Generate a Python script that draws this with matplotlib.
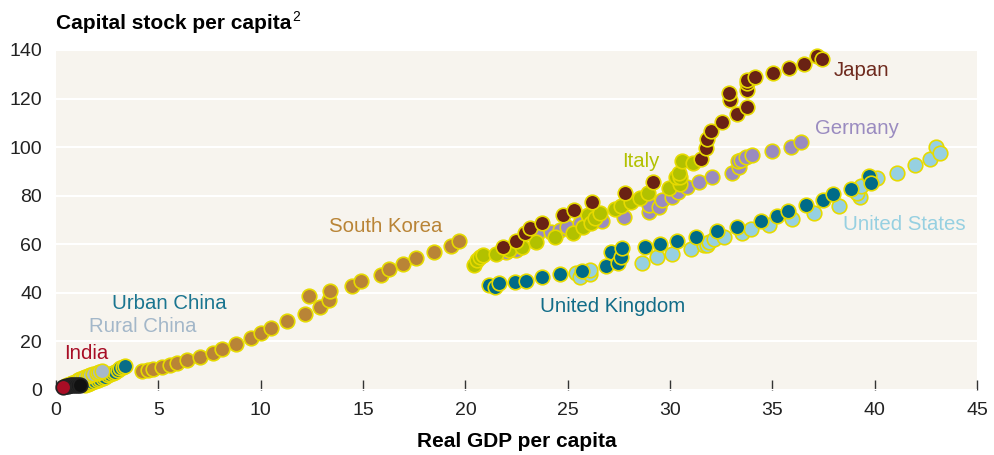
import matplotlib.pyplot as plt

plt.rcParams['font.family'] = ['Liberation Sans', 'DejaVu Sans']

# values (real GDP per capita, capital stock per capita)
india_x = [0.36]
india_y = [1.4]
india_dark_x = [0.5, 0.59, 0.68, 0.78, 0.88, 0.98, 1.08, 1.17]
india_dark_y = [1.6, 1.8, 1.9, 2.0, 2.0, 2.1, 2.1, 2.2]

rural_x = [0.44, 0.56, 0.68, 0.8, 0.93, 1.05, 1.17, 1.3, 1.42, 1.54, 1.66, 1.82, 1.99, 2.1, 2.23]
rural_y = [1.6, 2.0, 2.5, 2.9, 3.4, 4.0, 4.5, 5.0, 5.5, 5.9, 6.2, 6.6, 7.1, 7.5, 7.9]

urban_x = [1.4, 1.55, 1.66, 1.78, 1.91, 2.03, 2.15, 2.28, 2.4, 2.52, 2.64, 2.77, 2.89, 3.01, 3.13, 3.25, 3.37]
urban_y = [1.9, 2.4, 2.8, 3.2, 3.7, 4.1, 4.5, 5.0, 5.5, 6.0, 6.5, 7.0, 7.5, 8.2, 8.9, 9.4, 9.9]

korea_x = [4.19, 4.51, 4.74, 5.17, 5.57, 5.9, 6.39, 7.04, 7.69, 8.13, 8.8, 9.52, 10.0, 10.5,
           11.3, 12.18, 12.34, 12.9, 13.35, 13.4, 14.46, 14.88, 15.89, 16.28, 16.93, 17.59,
           18.45, 19.3, 19.7]
korea_y = [7.9, 8.2, 8.6, 9.3, 10.3, 11.2, 12.3, 13.7, 15.1, 16.7, 18.9, 21.2, 23.5, 25.6,
           28.5, 31.3, 38.9, 34.3, 37.0, 40.9, 42.8, 44.9, 47.2, 49.8, 51.9, 54.2,
           56.9, 59.1, 61.4]

germany_x = [21.96, 22.49, 23.51, 24.16, 24.61, 24.97, 25.62, 26.68, 27.74, 28.96, 28.96,
             29.45, 29.62, 30.11, 30.38, 30.84, 31.41, 32.06, 33.04, 33.35, 33.32, 33.45,
             33.69, 34.02, 35.0, 35.89, 36.38]
germany_y = [56.8, 57.6, 64.2, 65.1, 65.8, 67.2, 68.6, 69.5, 71.3, 73.4, 76.1,
             75.2, 78.2, 79.5, 81.6, 83.7, 85.7, 87.8, 89.5, 92.0, 94.4, 94.7,
             95.8, 96.7, 98.5, 100.1, 102.1]

japan_x = [21.86, 22.49, 22.93, 23.14, 23.73, 24.78, 25.33, 26.18, 27.82, 29.16, 31.53,
           31.77, 31.81, 32.02, 32.53, 33.29, 33.77, 32.94, 32.88, 33.74, 33.77, 33.74,
           34.13, 35.05, 35.81, 36.54, 37.16, 37.44]
japan_y = [59.0, 61.4, 64.5, 66.5, 68.9, 71.9, 74.1, 77.4, 81.1, 85.7, 95.3,
           99.5, 103.4, 106.7, 110.2, 113.7, 116.6, 119.3, 122.1, 123.7, 126.5, 127.8,
           128.9, 130.7, 132.6, 134.2, 137.6, 136.1]

italy_x = [20.41, 20.57, 20.7, 20.85, 21.52, 22.12, 22.77, 23.46, 24.4, 25.27, 25.74, 26.0,
           26.16, 26.31, 26.57, 27.29, 27.58, 28.1, 28.52, 28.91, 29.94, 30.48, 30.27,
           30.48, 30.43, 30.6, 31.13]
italy_y = [51.4, 53.5, 54.9, 55.6, 56.0, 57.6, 59.0, 60.9, 62.8, 64.5, 67.0, 72.0,
           68.8, 70.7, 72.7, 74.4, 75.7, 77.5, 78.9, 80.9, 83.0, 84.8, 87.8,
           87.8, 89.4, 94.4, 93.3]

us_x = [25.38, 25.62, 26.08, 26.11, 28.64, 29.37, 30.11, 31.0, 31.65, 31.82, 31.9, 32.14,
        32.63, 33.53, 33.97, 34.83, 35.97, 37.03, 38.25, 39.28, 39.15, 39.35, 40.13,
        41.11, 41.96, 42.7, 42.98, 43.19]
us_y = [48.0, 46.6, 47.7, 49.4, 52.4, 54.9, 56.0, 57.9, 59.7, 59.7, 61.0, 62.0,
        63.1, 64.5, 66.1, 67.9, 70.2, 73.0, 75.7, 79.3, 81.2, 84.0, 87.1,
        89.5, 92.6, 95.3, 100.1, 97.4]

uk_x = [21.14, 21.47, 21.63, 22.4, 22.98, 23.75, 24.61, 25.71, 26.89, 27.09, 27.45, 27.58,
        27.66, 28.77, 29.5, 30.32, 31.25, 32.27, 33.27, 34.46, 35.21, 35.76, 36.63,
        37.49, 37.98, 38.83, 39.72, 39.8]
uk_y = [43.2, 42.5, 44.2, 44.6, 45.0, 46.6, 47.7, 49.1, 51.0, 56.9, 52.4, 54.9,
        58.3, 58.7, 60.1, 61.4, 62.8, 65.6, 67.2, 69.7, 71.6, 73.7, 76.1,
        78.2, 80.5, 82.7, 88.1, 85.3]

x_ticks = [0, 5, 10, 15, 20, 25, 30, 35, 40, 45]
y_ticks = [0, 20, 40, 60, 80, 100, 120, 140]

fig = plt.figure(figsize=(9.95, 4.55), dpi=100)
ax = fig.add_axes([0.0563, 0.1429, 0.9257, 0.7473])
ax.set_facecolor('#f7f4ee')

edge = '#e6da00'
ms = 110


def dots(x, y, fill, ec=edge, z=3):
    ax.scatter(x, y, s=ms, c=fill, edgecolors=ec, linewidths=1.2, zorder=z, clip_on=False)


dots(korea_x, korea_y, '#b98436')
dots(germany_x, germany_y, '#9a8bc0')
dots(italy_x, italy_y, '#b2c100')
dots(japan_x, japan_y, '#6a2214')
dots(us_x, us_y, '#96d0e1')
dots(uk_x, uk_y, '#006b88')
dots(urban_x, urban_y, '#0a6d88')
dots(rural_x, rural_y, '#a6b8c8')
dots(india_dark_x, india_dark_y, '#111111', ec='#222222')
dots(india_x, india_y, '#a80d25', ec='#222222', z=4)

lab = dict(fontsize=14.7, ha='center', va='center', zorder=5)
ax.text(38.0, 131.7, 'Japan', color='#6e2a1e', ha='left', va='center', fontsize=14.7)
ax.text(39.12, 107.8, 'Germany', color='#9a8bc0', **lab)
ax.text(28.56, 94.2, 'Italy', color='#b2c100', **lab)
ax.text(16.09, 67.5, 'South Korea', color='#b98436', **lab)
ax.text(41.42, 68.3, 'United States', color='#96d0e1', **lab)
ax.text(27.19, 34.2, 'United Kingdom', color='#116c88', **lab)
ax.text(5.53, 35.8, 'Urban China', color='#1a7590', **lab)
ax.text(4.25, 26.3, 'Rural China', color='#a3b7c9', **lab)
ax.text(1.47, 15.2, 'India', color='#a80d25', **lab)

ax.set_xlim(0, 45)
ax.set_ylim(0, 140)
ax.set_xticks(x_ticks)
ax.set_yticks(y_ticks)
ax.yaxis.grid(True, color='white', linewidth=1.5)
ax.set_axisbelow(True)
for s in ax.spines.values():
    s.set_visible(False)
ax.tick_params(axis='x', direction='in', length=7, width=1, color='#333333',
               labelsize=14, labelcolor='#222222', pad=9)
ax.tick_params(axis='y', length=0, labelsize=14, labelcolor='#222222', pad=10)

ax.set_xlabel('Real GDP per capita', fontsize=15, fontweight='bold', labelpad=9)
title = fig.text(0.0563, 0.948, 'Capital stock per capita', fontsize=15, fontweight='bold',
                 ha='left', va='center')
fig.canvas.draw()
bb = title.get_window_extent().transformed(fig.transFigure.inverted())
fig.text(bb.x1 + 0.001, 0.962, '2', fontsize=10, ha='left', va='center')

fig.savefig('out.png', dpi=100)
